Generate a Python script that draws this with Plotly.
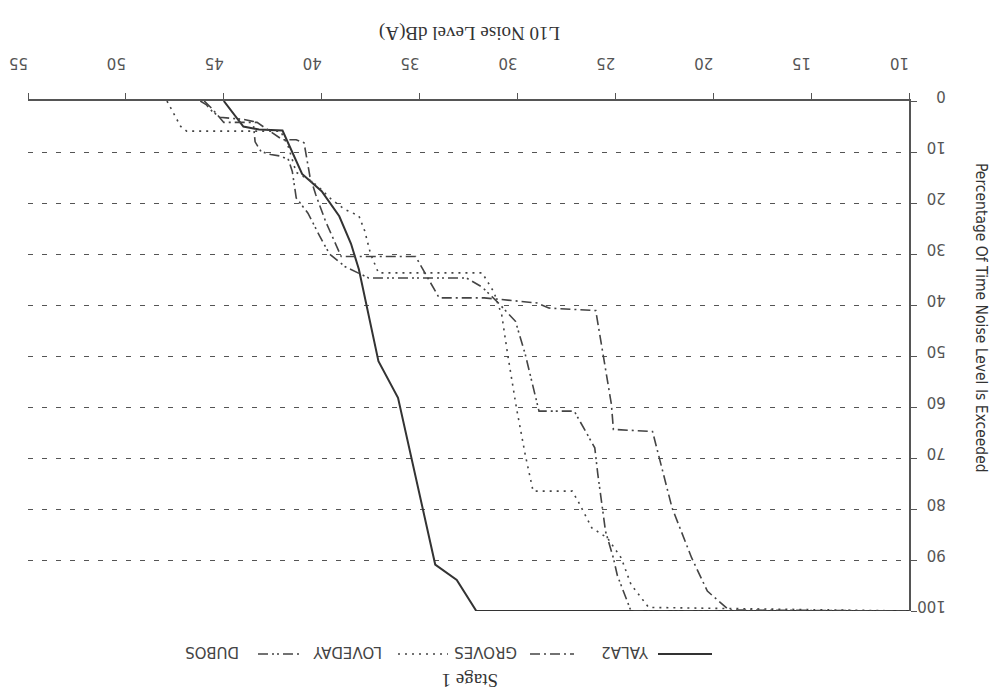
import plotly.graph_objects as go

# ---- data ----
x_ticks = [10, 15, 20, 25, 30, 35, 40, 45, 50, 55]
y_ticks = [0, 10, 20, 30, 40, 50, 60, 70, 80, 90, 100]

yala2_db = [45.0, 44.0, 43.2, 42.0, 41.0, 40.0, 39.1, 38.5, 38.1, 37.7, 37.1, 36.1, 35.3, 34.2, 33.1, 32.1, 10.0]
yala2_pct = [0, 5.0, 5.6, 5.8, 14.3, 17.7, 22.6, 28.0, 33.0, 40.0, 51.0, 58.2, 72.0, 90.9, 93.9, 100, 100]

groves_db = [46.0, 45.6, 45.0, 43.3, 42.0, 41.3, 40.9, 40.6, 40.3, 39.8, 39.2, 39.0, 35.2, 34.0, 31.7, 29.0, 28.4,
             26.0, 25.2, 25.1, 23.1, 22.5, 22.1, 21.1, 20.3, 19.2, 10.0]
groves_pct = [0, 1.5, 4.2, 4.2, 7.6, 7.6, 8.2, 14.8, 18.4, 23.6, 28.8, 30.5, 30.5, 38.6, 38.6, 39.6, 40.6,
              41.1, 59.5, 64.4, 64.8, 73.6, 79.8, 89.6, 96.1, 99.8, 100]

loveday_db = [47.9, 47.2, 46.9, 42.1, 41.7, 41.3, 40.6, 40.2, 39.5, 38.8, 38.1, 37.8, 37.5, 37.1, 31.8, 31.2,
              30.8, 30.5, 30.05, 29.6, 29.2, 27.2, 26.9, 26.2, 25.4, 24.7, 24.2, 23.3, 10.0]
loveday_pct = [0, 5.0, 5.9, 5.9, 9.0, 14.0, 15.5, 16.7, 19.3, 21.3, 22.5, 25.5, 30.0, 33.7, 33.7, 37.5,
               42.0, 49.7, 60.2, 69.4, 76.5, 76.5, 78.5, 83.7, 85.7, 89.6, 94.8, 99.3, 100]

dubos_db = [46.2, 45.9, 45.6, 45.2, 44.0, 43.5, 43.4, 43.1, 42.6, 42.1, 41.7, 41.5, 41.3, 40.7, 40.1, 39.6,
            38.8, 37.6, 32.6, 31.8, 31.0, 30.1, 29.6, 29.1, 28.9, 27.1, 26.6, 26.05, 25.9, 25.7, 25.5, 25.1,
            24.9, 24.2, 10.0]
dubos_pct = [0, 0.7, 2.0, 3.2, 3.6, 4.0, 8.0, 9.9, 10.5, 10.8, 11.5, 13.8, 19.0, 22.0, 26.5, 30.0,
             32.5, 34.7, 34.7, 36.5, 39.5, 43.2, 49.7, 57.6, 60.8, 60.8, 64.1, 68.0, 73.0, 78.5, 84.4, 89.6,
             93.0, 100, 100]

series_names = ["YALA2", "GROVES", "LOVEDAY", "DUBOS"]

# ---- styles ----
styles = {
    "YALA2": dict(color="#333333", width=2.0, dash="solid"),
    "GROVES": dict(color="#444444", width=1.6, dash="10px,4px,2px,4px"),
    "LOVEDAY": dict(color="#444444", width=1.6, dash="2px,5px"),
    "DUBOS": dict(color="#444444", width=1.6, dash="10px,4px,2px,3px,2px,4px"),
}

data = {
    "YALA2": (yala2_db, yala2_pct),
    "GROVES": (groves_db, groves_pct),
    "LOVEDAY": (loveday_db, loveday_pct),
    "DUBOS": (dubos_db, dubos_pct),
}

fig = go.Figure()
for name in series_names:
    xs, ys = data[name]
    fig.add_trace(go.Scatter(x=xs, y=ys, mode="lines", name=name, line=styles[name],
                             showlegend=False))

W, H = 1000, 697
L, R, T, B = 20, 99, 93, 94
pw, ph = W - L - R, H - T - B


def px(xp):
    return (xp - L) / pw


def py(yp):
    return (H - B - yp) / ph


tick_font = dict(family="DejaVu Sans, Arial, sans-serif", size=15, color="#555555")

fig.update_layout(
    width=W, height=H,
    margin=dict(l=L, r=R, t=T, b=B, autoexpand=False),
    paper_bgcolor="white", plot_bgcolor="white",
    showlegend=False,
    xaxis=dict(
        range=[55, 10], side="top", tickmode="array", tickvals=x_ticks,
        ticktext=[str(v) for v in x_ticks], tickangle=180, tickfont=tick_font,
        ticklabelstandoff=14, automargin=False,
        showline=True, linecolor="#555555", linewidth=1.5,
        ticks="outside", ticklen=6, tickcolor="#555555",
        showgrid=False, zeroline=False,
    ),
    yaxis=dict(
        range=[100, 0], side="right", tickmode="array", tickvals=y_ticks,
        ticktext=[str(v) for v in y_ticks], tickangle=180, tickfont=tick_font,
        ticklabelstandoff=26, automargin=False,
        showline=True, linecolor="#555555", linewidth=1.5,
        ticks="outside", ticklen=6, tickcolor="#555555",
        showgrid=True, gridcolor="#555555", gridwidth=1.3, griddash="5px,9px",
        zeroline=False,
    ),
)

annotations = [
    dict(text="L10 Noise Level dB(A)", x=px(462), y=py(25), xref="paper", yref="paper",
         showarrow=False, textangle=180, xanchor="center", yanchor="middle",
         font=dict(family="Liberation Serif, Times New Roman, serif", size=19, color="#333333")),
    dict(text="Percentage Of Time Noise Level Is Exceeded", x=px(973), y=py(310), xref="paper",
         yref="paper", showarrow=False, textangle=90, xanchor="center", yanchor="middle",
         font=dict(family="DejaVu Sans Condensed, Roboto Condensed, Roboto, sans-serif", size=15.5,
                   color="#333333")),
    dict(text="Stage 1", x=px(462), y=py(673), xref="paper", yref="paper",
         showarrow=False, textangle=180, xanchor="center", yanchor="middle",
         font=dict(family="Liberation Serif, Times New Roman, serif", size=19, color="#333333")),
]

# upside-down legend: label centres and sample segments (pixel positions)
legend_items = [
    ("YALA2", 617, (650, 704)),
    ("GROVES", 478, (522, 566)),
    ("LOVEDAY", 340, (390, 440)),
    ("DUBOS", 204, (250, 294)),
]
shapes = []
for name, cx, (x0, x1) in legend_items:
    annotations.append(dict(text=name, x=px(cx), y=py(644), xref="paper", yref="paper",
                            showarrow=False, textangle=180, xanchor="center", yanchor="middle",
                            font=dict(family="DejaVu Sans, Arial, sans-serif", size=15,
                                      color="#444444")))
    st = styles[name]
    shapes.append(dict(type="line", xref="paper", yref="paper", x0=px(x0), x1=px(x1),
                       y0=py(646), y1=py(646),
                       line=dict(color=st["color"], width=st["width"], dash=st["dash"])))

fig.update_layout(annotations=annotations, shapes=shapes)

fig.write_html("out.html")
